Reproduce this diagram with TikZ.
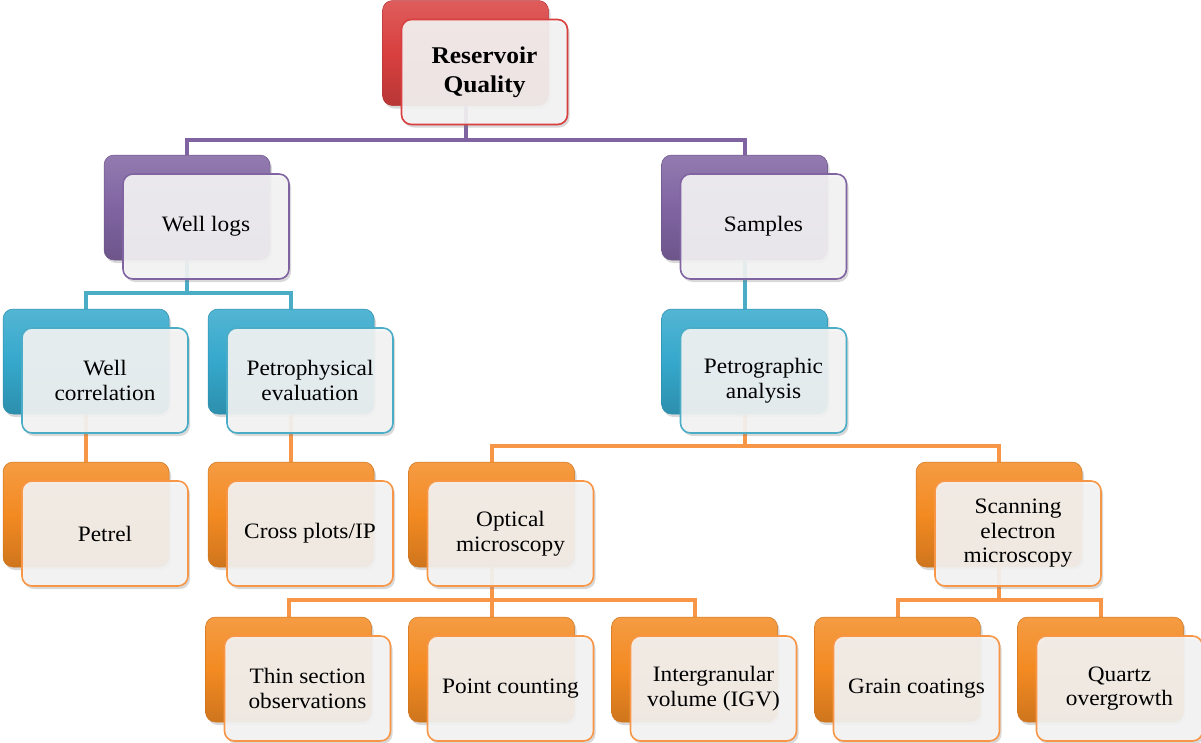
\documentclass[tikz,border=0pt]{standalone}
\usepackage{fontspec}
\setmainfont{Liberation Serif}[FakeStretch=1.06]
\usetikzlibrary{shadows}
\pgfdeclarelayer{bg}
\pgfsetlayers{bg,main}
\definecolor{cRed}{HTML}{D8403F}
\definecolor{cPur}{HTML}{8064A2}
\definecolor{cCya}{HTML}{35A8CC}
\definecolor{cOra}{HTML}{F38A22}
\definecolor{lOra}{HTML}{F79646}
\definecolor{lCya}{HTML}{4BACC6}
\tikzset{
  backbox/.style={rounded corners=10pt, minimum width=166pt, minimum height=105pt, inner sep=0pt,
    draw=#1!85!black, line width=0.5pt, top color=#1!85!white, bottom color=#1!85!black,
    middle color=#1,
    drop shadow={opacity=0.3, shadow xshift=2pt, shadow yshift=-3pt}},
  frontbox/.style={rounded corners=10pt, minimum width=166pt, minimum height=105pt, inner sep=2pt,
    draw=#1, line width=1.6pt, fill=white!96!black, fill opacity=0.9, text opacity=1,
    drop shadow={opacity=0.3, shadow xshift=2pt, shadow yshift=-3pt},
    align=center, font=\fontsize{22}{24.5}\selectfont},
  titletext/.style={font=\bfseries\fontsize{24}{29}\selectfont},
  link/.style={line width=4pt, draw=#1, line join=miter},
}
\newcommand\duo[7][]{%
  \node[backbox=#5] (#2-b) at (#3,#4) {};
  \node[frontbox=#6,#1] (#2) at (#3+19,#4+19) {#7};
}
\begin{document}
\begin{tikzpicture}[x=1pt,y=-1pt]
\useasboundingbox (0,0) rectangle (1201,742);
\duo[titletext]{rq}{465.5}{53}{cRed}{cRed}{Reservoir\\Quality}
\duo{wl}{187}{207.5}{cPur}{cPur}{Well logs}
\duo{sa}{744.5}{207.5}{cPur}{cPur}{Samples}
\duo{wc}{86}{361.5}{cCya}{lCya}{Well\\correlation}
\duo{pe}{291}{361.5}{cCya}{lCya}{Petrophysical\\evaluation}
\duo{pa}{744.5}{361.5}{cCya}{lCya}{Petrographic\\analysis}
\duo{pt}{86}{514.5}{cOra}{lOra}{Petrel}
\duo{cp}{291}{514.5}{cOra}{lOra}{Cross plots/IP}
\duo{om}{491.5}{514.5}{cOra}{lOra}{Optical\\microscopy}
\duo{sem}{999}{514.5}{cOra}{lOra}{Scanning\\electron\\microscopy}
\duo{ts}{288.5}{669.5}{cOra}{lOra}{Thin section\\observations}
\duo{pc}{491.5}{669.5}{cOra}{lOra}{Point counting}
\duo{igv}{694.5}{669.5}{cOra}{lOra}{Intergranular\\volume (IGV)}
\duo{gc}{897.5}{669.5}{cOra}{lOra}{Grain coatings}
\duo{qo}{1100.5}{669.5}{cOra}{lOra}{Quartz\\overgrowth}
\begin{pgfonlayer}{bg}
  \coordinate (b1) at (465.5,140);
  \coordinate (b2) at (187,293);
  \coordinate (b3) at (744.5,446);
  \coordinate (b4) at (491.5,600);
  \coordinate (b5) at (999,600);
  \draw[link=cPur] (rq-b.center) -- (b1);
  \draw[link=cPur] (wl-b.center) |- (b1) -| (sa-b.center);
  \draw[link=lCya] (wl-b.center) -- (b2);
  \draw[link=lCya] (wc-b.center) |- (b2) -| (pe-b.center);
  \draw[link=lCya] (sa-b.center) -- (pa-b.center);
  \draw[link=lOra] (wc-b.center) -- (pt-b.center);
  \draw[link=lOra] (pe-b.center) -- (cp-b.center);
  \draw[link=lOra] (pa-b.center) -- (b3);
  \draw[link=lOra] (om-b.center) |- (b3) -| (sem-b.center);
  \draw[link=lOra] (om-b.center) -- (b4);
  \draw[link=lOra] (ts-b.center) |- (b4) -| (igv-b.center);
  \draw[link=lOra] (b4) -- (pc-b.center);
  \draw[link=lOra] (sem-b.center) -- (b5);
  \draw[link=lOra] (gc-b.center) |- (b5) -| (qo-b.center);
\end{pgfonlayer}
\end{tikzpicture}
\end{document}
